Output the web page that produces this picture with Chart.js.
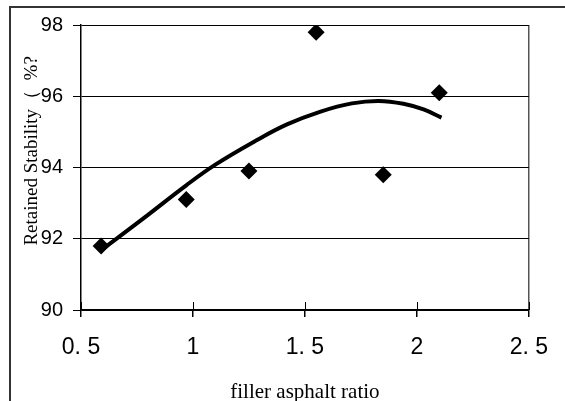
<!DOCTYPE html>
<html>
<head>
<meta charset="utf-8">
<script src="https://cdn.jsdelivr.net/npm/chart.js@4/dist/chart.umd.min.js"></script>
<style>
    body { margin: 0; background: #fff; }
    #wrap { position: relative; width: 565px; height: 401px; }
    #frame { position: absolute; left: 9px; top: 6px; right: 0; bottom: 0; border-left: 2px solid #333; border-top: 2px solid #333; pointer-events: none; }
</style>
</head>
<body>
<div id="wrap">
    <canvas id="myChart" width="565" height="401"></canvas>
    <div id="frame"></div>
</div>
<script>
// measured points
const fillerRatio = [0.59, 0.97, 1.25, 1.55, 1.85, 2.1];
const retained = [91.8, 93.1, 93.9, 97.8, 93.8, 96.1];

// trend line
const trendX = [0.59, 0.77, 0.97, 1.1, 1.28, 1.42, 1.57, 1.71, 1.83, 1.94, 2.03, 2.11];
const trendY = [91.68, 92.53, 93.5, 94.08, 94.75, 95.21, 95.57, 95.8, 95.87, 95.79, 95.63, 95.4];

const xTicks = [0.5, 1, 1.5, 2, 2.5];
const xTickLabels = ['0. 5', '1', '1. 5', '2', '2. 5'];
const yTicks = [90, 92, 94, 96, 98];
const yTickLabels = ['90', '92', '94', '96', '98'];

const xTitle = 'filler asphalt ratio';
const yTitle = 'Retained Stability（  %?';

const toPoints = (xs, ys) => xs.map((x, i) => ({ x: x, y: ys[i] }));

// small tick marks above the x axis (excel style cross ticks)
const innerTicks = {
    id: 'innerTicks',
    afterDatasetsDraw(chart) {
        const xs = chart.scales.x;
        const ctx = chart.ctx;
        ctx.save();
        ctx.strokeStyle = '#000';
        ctx.lineWidth = 1;
        xs.ticks.forEach((t) => {
            const px = Math.round(xs.getPixelForValue(t.value)) + 0.5;
            ctx.beginPath();
            ctx.moveTo(px, xs.top);
            ctx.lineTo(px, xs.top - 8);
            ctx.stroke();
        });
        ctx.restore();
    }
};

var ctx = document.getElementById('myChart').getContext('2d');
var myChart = new Chart(ctx, {
    type: 'scatter',
    data: {
        datasets: [{
            label: 'trend',
            type: 'line',
            data: toPoints(trendX, trendY),
            borderColor: '#000',
            borderWidth: 4,
            pointRadius: 0,
            tension: 0.4,
            fill: false
        },
        {
            label: 'Retained Stability',
            data: toPoints(fillerRatio, retained),
            pointStyle: 'rectRot',
            pointRadius: 8.5,
            backgroundColor: '#000',
            borderColor: '#000',
            borderWidth: 0
        }]
    },
    options: {
        responsive: false,
        animation: false,
        layout: { padding: { top: 25, right: 23, left: 0, bottom: 0 } },
        plugins: {
            legend: { display: false },
            tooltip: { enabled: false }
        },
        scales: {
            x: {
                type: 'linear',
                min: 0.5,
                max: 2.5,
                afterBuildTicks: (axis) => { axis.ticks = xTicks.map(v => ({ value: v })); },
                afterFit: (axis) => { axis.height = 91; },
                ticks: {
                    color: '#000',
                    padding: 17,
                    maxRotation: 0,
                    font: { family: 'Liberation Sans', size: 23 },
                    callback: (v) => xTickLabels[xTicks.indexOf(v)]
                },
                grid: {
                    drawOnChartArea: true,
                    color: (c) => (c.tick && c.tick.value === 2.5) ? '#555' : 'rgba(0,0,0,0)',
                    tickColor: '#000',
                    tickLength: 7,
                    lineWidth: 1.5
                },
                border: { display: true, color: '#000', width: 1.5 },
                title: {
                    display: true,
                    text: xTitle,
                    color: '#000',
                    padding: { top: 0, bottom: -4 },
                    font: { family: 'Liberation Serif', size: 21 }
                }
            },
            y: {
                min: 90,
                max: 98,
                afterBuildTicks: (axis) => { axis.ticks = yTicks.map(v => ({ value: v })); },
                afterFit: (axis) => { axis.width = 81; },
                ticks: {
                    color: '#000',
                    padding: 10,
                    font: { family: 'Liberation Sans', size: 20 },
                    callback: (v) => yTickLabels[yTicks.indexOf(v)]
                },
                grid: {
                    color: '#000',
                    tickColor: '#000',
                    tickLength: 8,
                    lineWidth: 1
                },
                border: { display: true, color: '#000', width: 1.5 },
                title: {
                    display: true,
                    text: '       ' + yTitle,
                    color: '#000',
                    padding: { top: 21, bottom: 0 },
                    font: { family: 'Liberation Serif', size: 19 }
                }
            }
        }
    },
    plugins: [innerTicks]
});
</script>
</body>
</html>
